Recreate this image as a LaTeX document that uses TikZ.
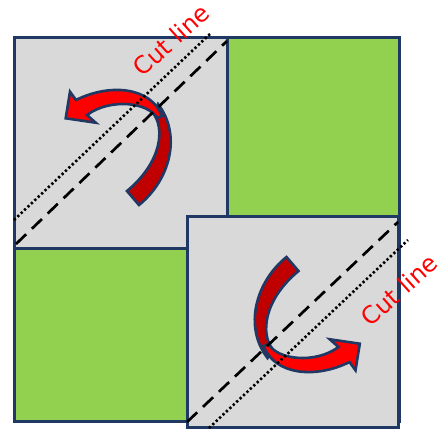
\documentclass[tikz,border=0pt]{standalone}
\usepackage{fontspec}
\setmainfont{DejaVu Sans}
\definecolor{navy}{HTML}{203864}
\definecolor{sqgreen}{HTML}{92D050}
\definecolor{sqgray}{HTML}{D9D9D9}
\definecolor{darkred}{HTML}{C00000}
\definecolor{brightred}{HTML}{FF0000}
\newcommand\myfoldarrow{%
  \filldraw[arrowback] (127,191) -- (139,205)
    .. controls (170,180) and (182,135) .. (158,104) -- (153,113)
    .. controls (165,128) and (162,162) .. (127,191) -- cycle;
  \filldraw[arrowfront] (76,100) .. controls (110,83) and (151,87) .. (162,116)
    -- (157,118) .. controls (148,102) and (110,98) .. (87,115)
    -- (95.7,122.7) -- (65.7,118.3) -- (70,91.7) -- cycle;
}
\begin{document}
\begin{tikzpicture}[x=1pt,y=-1pt,
  square/.style={draw=navy,line width=3pt},
  arrowback/.style={fill=darkred,draw=navy,line width=2.6pt,line join=miter},
  arrowfront/.style={fill=brightred,draw=navy,line width=2.6pt,line join=miter},
  dashline/.style={black,line width=2.7pt,dash pattern=on 14pt off 8pt},
  dotline/.style={black,line width=2.6pt,line cap=butt,dash pattern=on 2.3pt off 2.4pt},
  cutlabel/.style={text=brightred,font=\fontsize{24}{28}\selectfont,rotate=42,inner sep=0pt}]
\useasboundingbox (0,0) rectangle (444,429);
% squares
\path[square,fill=sqgreen] (14,37) rectangle (399,421);
\path[square,fill=sqgray] (14,37) rectangle (227,248);
\path[square,fill=sqgray] (187,216) rectangle (398,427);
% arrows
\myfoldarrow
\begin{scope}[rotate around={180:(212.75,231)}]
  \myfoldarrow
\end{scope}
% cut lines
\coordinate (d1a) at (16,244);
\coordinate (d1b) at (227,41);
\coordinate (o1a) at (14,220);
\coordinate (o1b) at (211,33);
\coordinate (d2a) at (187,422);
\coordinate (d2b) at (398,222);
\coordinate (o2a) at (209,428);
\coordinate (o2b) at (408,240);
\draw[dashline] (d1a) -- (d1b);
\draw[dotline] (o1a) -- (o1b);
\draw[dashline] (d2a) -- (d2b);
\draw[dotline] (o2a) -- (o2b);
% labels
\node[cutlabel] (cut1) at (171,40) {Cut line};
\node[cutlabel] (cut2) at (399,290) {Cut line};
\end{tikzpicture}
\end{document}
